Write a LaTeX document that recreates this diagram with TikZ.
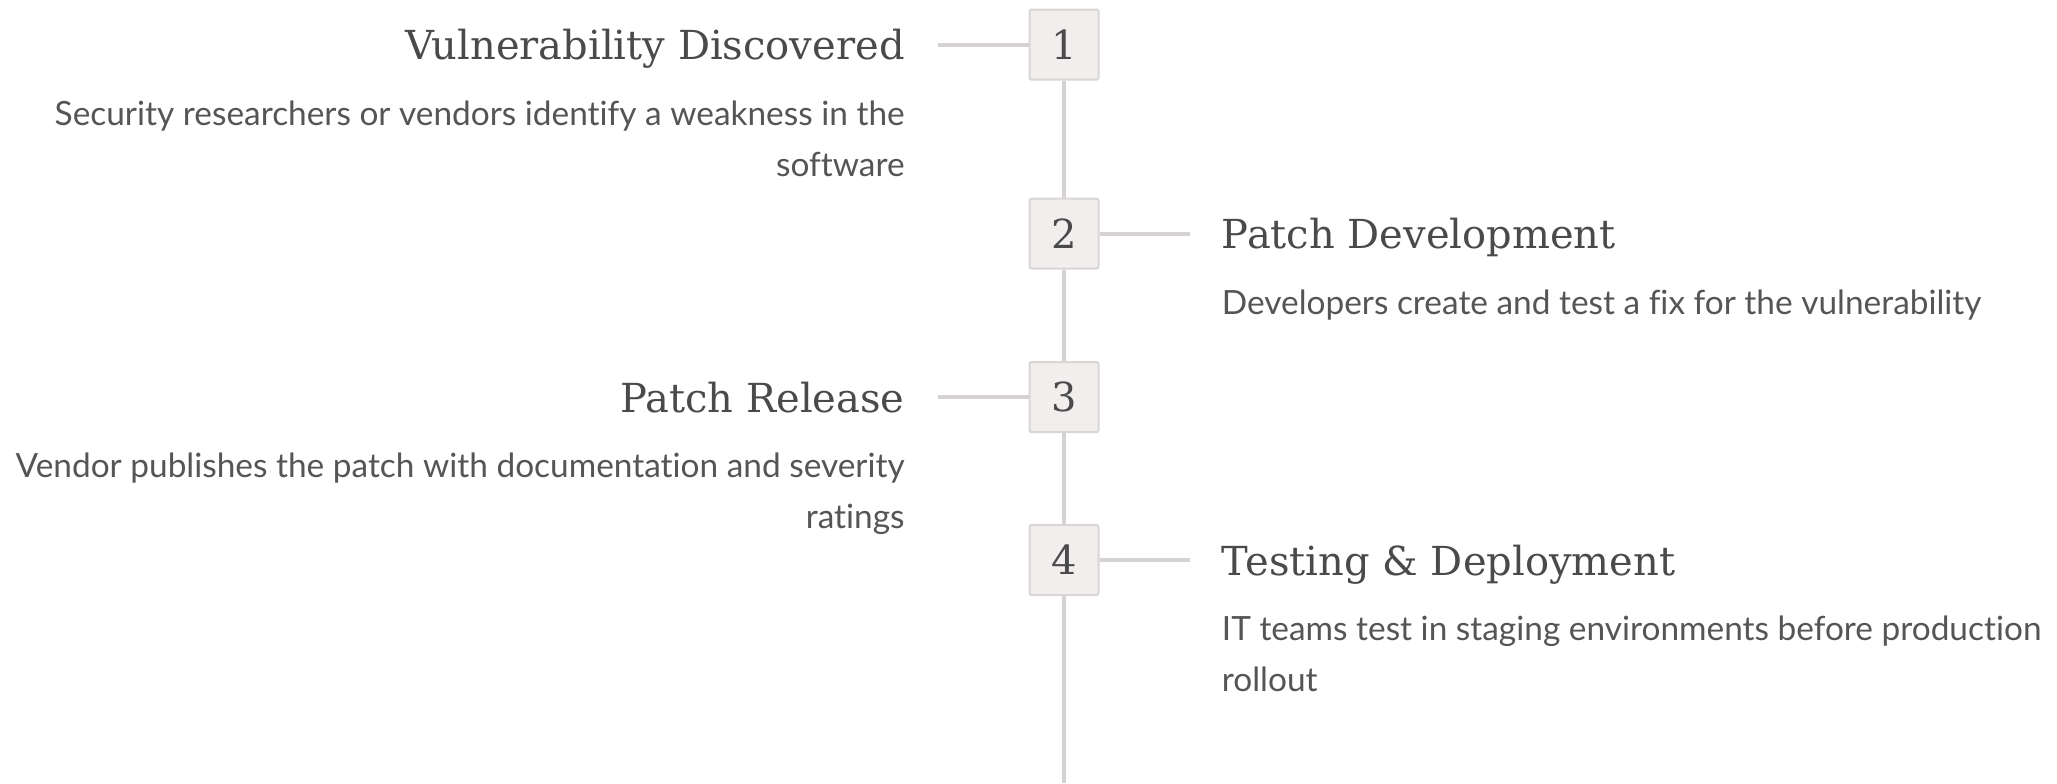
\documentclass[tikz,border=0pt]{standalone}
\usepackage{fontspec}
\setmainfont{DejaVu Serif}
\setsansfont{Lato}[Ligatures=NoCommon]
\usepackage{xcolor}
\usetikzlibrary{positioning}
\definecolor{spinegray}{HTML}{D6D2D2}
\definecolor{boxfill}{HTML}{F1EEED}
\definecolor{boxedge}{HTML}{D9D5D5}
\definecolor{titlegray}{HTML}{4A4A4A}
\definecolor{textgray}{HTML}{555555}

\begin{document}
\begin{tikzpicture}[x=0.5pt, y=-0.5pt,
  stepnum/.style={draw=boxedge, fill=boxfill, rounded corners=1pt, line width=1pt,
                  minimum width=34.5pt, minimum height=35pt, inner sep=0pt,
                  font=\rmfamily\fontsize{20}{24}\selectfont, text=titlegray},
  spine/.style={draw=spinegray, line width=2pt},
  ttl/.style={font=\rmfamily\fontsize{20}{24}\selectfont, text=titlegray, inner sep=0pt},
  dsc/.style={font=\sffamily\fontsize{16.7}{25.5}\selectfont, text=textgray, inner sep=0pt}]
\useasboundingbox (0,0) rectangle (2057,783);
\node[stepnum] (n1) at (1064,44.6) {1};
\node[stepnum] (n2) at (1064,233.5) {2};
\node[stepnum] (n3) at (1064,397) {3};
\node[stepnum] (n4) at (1064,560) {4};
\coordinate (spineend) at (1064,783);
\foreach \a/\b in {n1/n2, n2/n3, n3/n4, n4/spineend}{
  \draw[spine] (\a) -- (\b);
}
% short ticks out to the labels
\coordinate (k1) at (938,44.6);
\coordinate (k2) at (1190,233.5);
\coordinate (k3) at (938,397);
\coordinate (k4) at (1190,560);
\foreach \n in {1,...,4}{
  \draw[spine] (n\n) -- (k\n);
}
\node[ttl, anchor=base east] (t1) at (905,59.5) {Vulnerability Discovered};
\node[dsc, anchor=base east, align=right] (d1) at (905,176) {Security researchers or vendors identify a weakness in the\\software};
\node[ttl, anchor=base west] (t2) at (1221.5,248.5) {Patch Development};
\node[dsc, anchor=base west, align=left] (d2) at (1221.5,314) {Developers create and test a fix for the vulnerability};
\node[ttl, anchor=base east] (t3) at (905,412) {Patch Release};
\node[dsc, anchor=base east, align=right] (d3) at (905,528) {Vendor publishes the patch with documentation and severity\\ratings};
\node[ttl, anchor=base west] (t4) at (1221.5,575) {Testing \& Deployment};
\node[dsc, anchor=base west, align=left] (d4) at (1221.5,691) {IT teams test in staging environments before production\\rollout};
\end{tikzpicture}
\end{document}
